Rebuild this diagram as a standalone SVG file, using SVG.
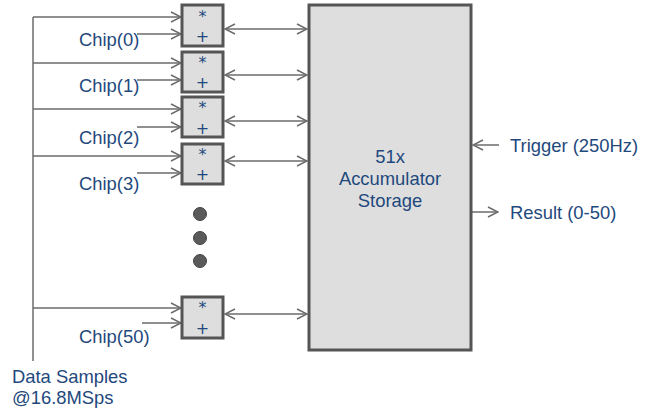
<svg xmlns="http://www.w3.org/2000/svg" width="657" height="411" viewBox="0 0 657 411">
<style>
.ln{stroke:#6b6b6b;stroke-width:1.5;fill:none}
.arr{marker-end:url(#ah)}
.bi{marker-start:url(#ah);marker-end:url(#ah)}
.box{fill:#dedede;stroke:#555;stroke-width:3}
.t{font-family:"Liberation Sans",Arial,sans-serif;font-size:18.4px;fill:#1f497d}
.op{font-family:"DejaVu Sans",sans-serif;font-size:16px;fill:#1f497d;text-anchor:middle}
.dot{fill:#5a5a5a;stroke:#444;stroke-width:1}
</style>
<defs>
<marker id="ah" viewBox="0 0 12 12" refX="11" refY="6" markerWidth="12" markerHeight="12" markerUnits="userSpaceOnUse" orient="auto-start-reverse">
<path d="M1,1 L11,6 L1,11" fill="none" stroke="#6b6b6b" stroke-width="1.5"/>
</marker>
</defs>
<g id="connectors">
<line class="ln" x1="33" y1="17" x2="33" y2="361"/>
<line class="ln arr" x1="33" y1="17" x2="181" y2="17"/>
<line class="ln arr" x1="137" y1="34" x2="181" y2="34"/>
<line class="ln arr" x1="33" y1="63" x2="181" y2="63"/>
<line class="ln arr" x1="137" y1="80" x2="181" y2="80"/>
<line class="ln arr" x1="33" y1="109" x2="181" y2="109"/>
<line class="ln arr" x1="137" y1="127" x2="181" y2="127"/>
<line class="ln arr" x1="33" y1="156" x2="181" y2="156"/>
<line class="ln arr" x1="137" y1="173" x2="181" y2="173"/>
<line class="ln arr" x1="33" y1="308" x2="181" y2="308"/>
<line class="ln arr" x1="142" y1="323" x2="181" y2="323"/>
<line class="ln bi" x1="225" y1="29" x2="307" y2="29"/>
<line class="ln bi" x1="225" y1="75" x2="307" y2="75"/>
<line class="ln bi" x1="225" y1="121" x2="307" y2="121"/>
<line class="ln bi" x1="225" y1="161" x2="307" y2="161"/>
<line class="ln bi" x1="225" y1="314" x2="307" y2="314"/>
<line class="ln arr" x1="499" y1="145" x2="473" y2="145"/>
<line class="ln arr" x1="472" y1="212" x2="498" y2="212"/>
</g>
<g id="mac0"><rect class="box" x="182" y="5" width="41" height="41"/><text class="op" x="202.5" y="22">*</text><text class="op" x="202.5" y="42">+</text></g>
<g id="mac1"><rect class="box" x="182" y="52" width="41" height="40"/><text class="op" x="202.5" y="68">*</text><text class="op" x="202.5" y="88">+</text></g>
<g id="mac2"><rect class="box" x="182" y="97" width="41" height="40"/><text class="op" x="202.5" y="113">*</text><text class="op" x="202.5" y="134">+</text></g>
<g id="mac3"><rect class="box" x="182" y="144" width="41" height="40"/><text class="op" x="202.5" y="160">*</text><text class="op" x="202.5" y="180">+</text></g>
<g id="mac50"><rect class="box" x="182" y="297" width="41" height="41"/><text class="op" x="202.5" y="313">*</text><text class="op" x="202.5" y="334">+</text></g>
<g id="dots"><circle class="dot" cx="200" cy="214" r="6.5"/><circle class="dot" cx="200" cy="238" r="6.5"/><circle class="dot" cx="200" cy="261" r="6.5"/></g>
<g id="storage"><rect class="box" x="309" y="5" width="162" height="345"/>
<text class="t" text-anchor="middle" x="390" y="163">51x</text>
<text class="t" text-anchor="middle" x="390" y="185">Accumulator</text>
<text class="t" text-anchor="middle" x="390" y="207">Storage</text></g>
<g id="labels">
<text class="t" x="79" y="46">Chip(0)</text>
<text class="t" x="79" y="92">Chip(1)</text>
<text class="t" x="79" y="144">Chip(2)</text>
<text class="t" x="79" y="190">Chip(3)</text>
<text class="t" x="79" y="343">Chip(50)</text>
<text class="t" x="12" y="383">Data Samples</text>
<text class="t" x="12" y="404">@16.8MSps</text>
<text class="t" x="510" y="152">Trigger (250Hz)</text>
<text class="t" x="510" y="219">Result (0-50)</text>
</g>
</svg>
